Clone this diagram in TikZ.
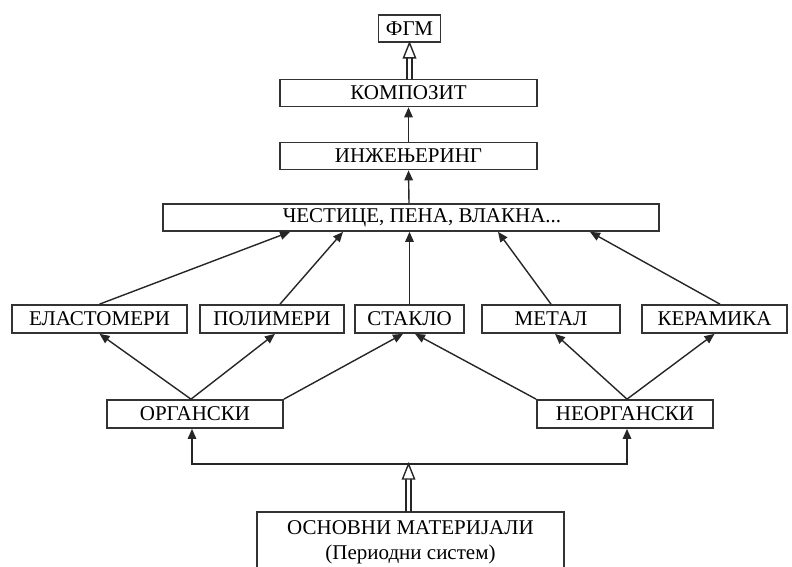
\documentclass[tikz,border=0pt]{standalone}
\usepackage{fontspec}
\setmainfont{Liberation Serif}
\usetikzlibrary{arrows.meta}
\newcommand{\hollowup}[2]{%
  \path (#2 |- #1) coordinate (hbase);
  \draw[conn] ([xshift=-2.5pt]hbase) -- ([xshift=-2.5pt,yshift=-15pt]#2);
  \draw[conn] ([xshift=2.5pt]hbase) -- ([xshift=2.5pt,yshift=-15pt]#2);
  \draw[conn,fill=white,line join=miter] (#2) -- ([xshift=-6pt,yshift=-15pt]#2) -- ([xshift=6pt,yshift=-15pt]#2) -- cycle;
}
\begin{document}
\begin{tikzpicture}[x=1pt,y=-1pt,
  box/.style={draw=black!80, line width=1.7pt, minimum height=27pt, inner sep=0pt,
    font=\fontsize{21}{25}\selectfont},
  conn/.style={draw=black!85, line width=1.4pt},
  arr/.style={conn, -{Triangle[length=10pt,width=8.5pt]}}]
\useasboundingbox[fill=white] (0,0) rectangle (792,567);

\node[box, minimum width=62pt] (fgm) at (409.5,28.5) {ФГМ};
\node[box, minimum width=257pt] (komp) at (408.5,93) {КОМПОЗИТ};
\node[box, minimum width=257pt] (inz) at (408.5,156) {ИНЖЕЊЕРИНГ};
\node[box, minimum width=496pt] (cest) at (411,217.5) {\hspace*{22pt}ЧЕСТИЦЕ, ПЕНА, ВЛАКНА...};

\node[box, minimum width=175pt, minimum height=28pt] (elast) at (99.5,319) {ЕЛАСТОМЕРИ};
\node[box, minimum width=144pt, minimum height=28pt] (polim) at (272,319) {ПОЛИМЕРИ};
\node[box, minimum width=109pt, minimum height=28pt] (stakl) at (409.5,319) {СТАКЛО};
\node[box, minimum width=138pt, minimum height=28pt] (metal) at (551,319) {МЕТАЛ};
\node[box, minimum width=145pt, minimum height=28pt] (keram) at (714.5,319) {КЕРАМИКА};

\node[box, minimum width=176pt, minimum height=28pt] (org) at (195,414) {ОРГАНСКИ};
\node[box, minimum width=176pt, minimum height=28pt] (neorg) at (625,414) {НЕОРГАНСКИ};

\node[anchor=north, minimum width=307pt, inner xsep=0pt, inner ysep=8pt, align=center,
  font=\fontsize{21}{25}\selectfont] (osn) at (410.5,512) {ОСНОВНИ МАТЕРИЈАЛИ\\(Периодни систем)};
\draw[conn, draw=black!80, line width=1.7pt] (osn.north west |- 0,567) -- (osn.north west) -- (osn.north east) -- (osn.north east |- 0,567);

% upper chain
\hollowup{komp.north}{fgm.south}
\draw[arr] (inz.north) -- (komp.south);
\draw[arr] ([xshift=-2pt]cest.north) -- (inz.south);

% materials to particles
\draw[arr] (elast.north) -- ([xshift=-121pt]cest.south);
\draw[arr] ([xshift=8pt]polim.north) -- ([xshift=-68pt]cest.south);
\draw[arr] (stakl.north) -- ([xshift=-1.5pt]cest.south);
\draw[arr] (metal.north) -- ([xshift=87pt]cest.south);
\draw[arr] ([xshift=5.5pt]keram.north) -- ([xshift=179pt]cest.south);

% organic / inorganic
\draw[arr] ([xshift=-4pt]org.north) -- (elast.south);
\draw[arr] ([xshift=-4pt]org.north) -- ([xshift=3pt]polim.south);
\draw[arr] (org.north east) -- ([xshift=-6.5pt]stakl.south);
\draw[arr] (neorg.north west) -- ([xshift=5.5pt]stakl.south);
\draw[arr] ([xshift=2pt]neorg.north) -- ([xshift=4pt]metal.south);
\draw[arr] ([xshift=2pt]neorg.north) -- (keram.south);

% base
\coordinate (hl) at (408.5,464);
\draw[arr] (hl) -| ([xshift=-3pt]org.south);
\draw[arr] (hl) -| ([xshift=2pt]neorg.south);
\hollowup{osn.north}{hl}
\end{tikzpicture}
\end{document}
